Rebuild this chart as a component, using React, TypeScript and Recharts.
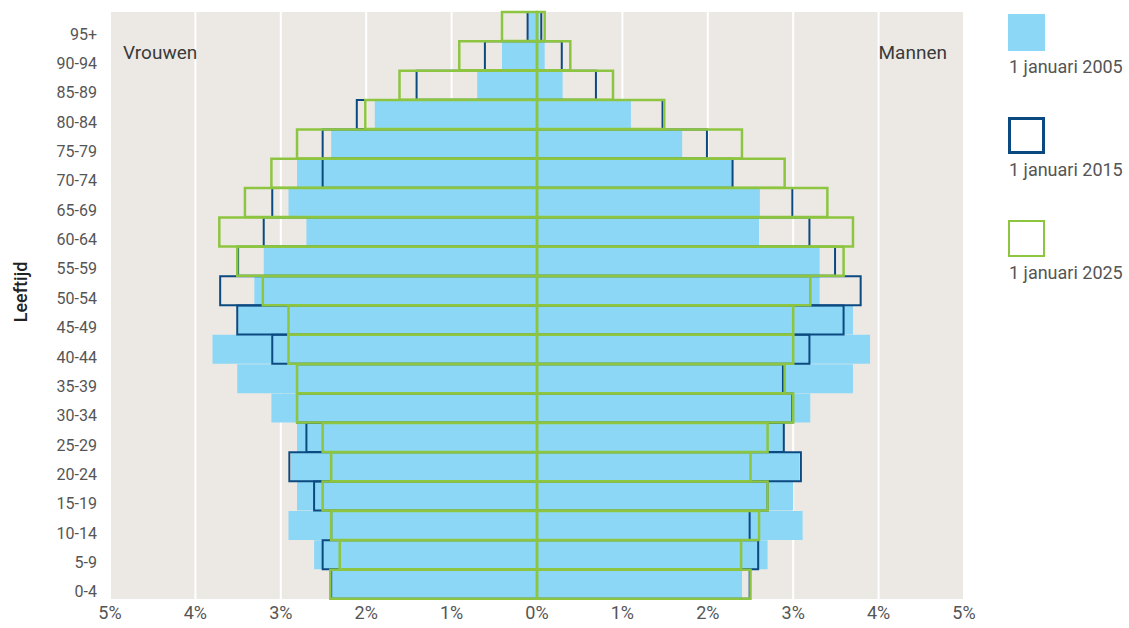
import { BarChart, Bar, XAxis, YAxis, CartesianGrid, Legend } from 'recharts';

// leeftijdsgroepen, jong -> oud (as staat reversed)
const ages = ['0-4', '5-9', '10-14', '15-19', '20-24', '25-29', '30-34', '35-39', '40-44', '45-49',
  '50-54', '55-59', '60-64', '65-69', '70-74', '75-79', '80-84', '85-89', '90-94', '95+'];

// aandeel in % van de bevolking
const women2005 = [2.41, 2.61, 2.91, 2.81, 2.88, 2.81, 3.11, 3.51, 3.8, 3.5, 3.31, 3.2, 2.7, 2.91, 2.81, 2.41, 1.9, 0.7, 0.41, 0.1];
const men2005 = [2.4, 2.7, 3.11, 3.0, 3.07, 2.88, 3.2, 3.7, 3.9, 3.7, 3.31, 3.31, 2.6, 2.61, 2.29, 1.7, 1.1, 0.3, 0.09, 0.03];

const women2015 = [2.41, 2.51, 2.41, 2.61, 2.9, 2.7, 2.81, 2.81, 3.1, 3.51, 3.71, 3.5, 3.2, 3.1, 2.51, 2.51, 2.11, 1.41, 0.61, 0.11];
const men2015 = [2.49, 2.59, 2.49, 2.7, 3.09, 2.89, 2.99, 2.88, 3.19, 3.59, 3.79, 3.49, 3.19, 2.99, 2.29, 1.99, 1.47, 0.69, 0.29, 0.05];

const women2025 = [2.42, 2.31, 2.41, 2.51, 2.41, 2.51, 2.81, 2.81, 2.91, 2.91, 3.21, 3.51, 3.72, 3.42, 3.11, 2.81, 2.01, 1.61, 0.91, 0.41];
const men2025 = [2.5, 2.39, 2.6, 2.7, 2.5, 2.7, 3.0, 2.9, 3.0, 3.0, 3.2, 3.59, 3.7, 3.4, 2.9, 2.4, 1.49, 0.89, 0.39, 0.09];

const pctTicks = [-5, -4, -3, -2, -1, 0, 1, 2, 3, 4, 5];
const seriesNames = ['1 januari 2005', '1 januari 2015', '1 januari 2025'];

const BLUE = '#8DD7F6';
const DARK = '#0B4A80';
const GREEN = '#8DC540';
const FONT = 'Roboto, sans-serif';
const TEXT = '#555';

const data = ages.map((age, i) => ({
  age,
  w2005: -women2005[i],
  m2005: men2005[i],
  w2015: -women2015[i],
  m2015: men2015[i],
  w2025: -women2025[i],
  m2025: men2025[i],
}));

const AgeTick = (props: any) => {
  const { x, y, payload } = props;
  return (
    <text x={x} y={y + 13} textAnchor="end" fill={TEXT} fontSize={16} fontFamily={FONT}>
      {payload.value}
    </text>
  );
};

const PctTick = (props: any) => {
  const { x, y, payload } = props;
  return (
    <text x={x} y={y + 20} textAnchor="middle" fill={TEXT} fontSize={18} fontFamily={FONT}>
      {Math.abs(payload.value) + '%'}
    </text>
  );
};

const legendBoxes = [
  { background: BLUE, border: 'none' },
  { background: '#fff', border: `3px solid ${DARK}` },
  { background: '#fff', border: `2.5px solid ${GREEN}` },
];

const renderLegend = () => (
  <div style={{ fontFamily: FONT }}>
    {seriesNames.map((name, i) => (
      <div key={name} style={{ height: 103 }}>
        <div style={{ width: 37, height: 37, boxSizing: 'border-box', ...legendBoxes[i] }} />
        <div style={{ marginTop: 5, fontSize: 18, lineHeight: '21px', color: TEXT, whiteSpace: 'nowrap', marginLeft: 1 }}>
          {name}
        </div>
      </div>
    ))}
  </div>
);

export default function App() {
  return (
    <div style={{ position: 'absolute', left: 0, top: 0, width: 1129, height: 628 }}>
      <BarChart
        width={1129}
        height={628}
        data={data}
        layout="vertical"
        stackOffset="sign"
        barCategoryGap={0}
        barGap={0}
        margin={{ top: 12, right: 165, left: 40, bottom: 0 }}
      >
        <CartesianGrid yAxisId="y2005" horizontal={false} stroke="#fff" strokeWidth={2} fill="#ECE9E4" />
        <XAxis
          type="number"
          domain={[-5, 5]}
          ticks={pctTicks}
          allowDataOverflow
          axisLine={false}
          tickLine={false}
          tickSize={0}
          tickMargin={0}
          height={29}
          tick={<PctTick />}
        />
        <YAxis
          yAxisId="y2005"
          type="category"
          dataKey="age"
          reversed
          width={70}
          axisLine={false}
          tickLine={false}
          tickSize={0}
          tickMargin={13}
          interval={0}
          tick={<AgeTick />}
        />
        <YAxis yAxisId="y2015" type="category" dataKey="age" reversed hide />
        <YAxis yAxisId="y2025" type="category" dataKey="age" reversed hide />
        <Legend
          layout="vertical"
          align="center"
          verticalAlign="middle"
          wrapperStyle={{ left: 1008, top: 14, width: 121 }}
          content={renderLegend}
        />
        <Bar yAxisId="y2005" dataKey="w2005" stackId="s2005" fill={BLUE} isAnimationActive={false} />
        <Bar yAxisId="y2005" dataKey="m2005" stackId="s2005" fill={BLUE} isAnimationActive={false} />
        <Bar yAxisId="y2015" dataKey="w2015" stackId="s2015" fill="none" stroke={DARK} strokeWidth={2} isAnimationActive={false} />
        <Bar yAxisId="y2015" dataKey="m2015" stackId="s2015" fill="none" stroke={DARK} strokeWidth={2} isAnimationActive={false} />
        <Bar yAxisId="y2025" dataKey="w2025" stackId="s2025" fill="none" stroke={GREEN} strokeWidth={2.5} isAnimationActive={false} />
        <Bar yAxisId="y2025" dataKey="m2025" stackId="s2025" fill="none" stroke={GREEN} strokeWidth={2.5} isAnimationActive={false} />
        <text x={123} y={59} fill="#3a3a3a" fontSize={19} fontFamily={FONT}>Vrouwen</text>
        <text x={947} y={59} textAnchor="end" fill="#3a3a3a" fontSize={19} fontFamily={FONT}>Mannen</text>
        <text x={27} y={292} transform="rotate(-90 27 292)" textAnchor="middle" fill="#222" fontSize={18} fontWeight={500} fontFamily={FONT}>Leeftijd</text>
      </BarChart>
    </div>
  );
}
